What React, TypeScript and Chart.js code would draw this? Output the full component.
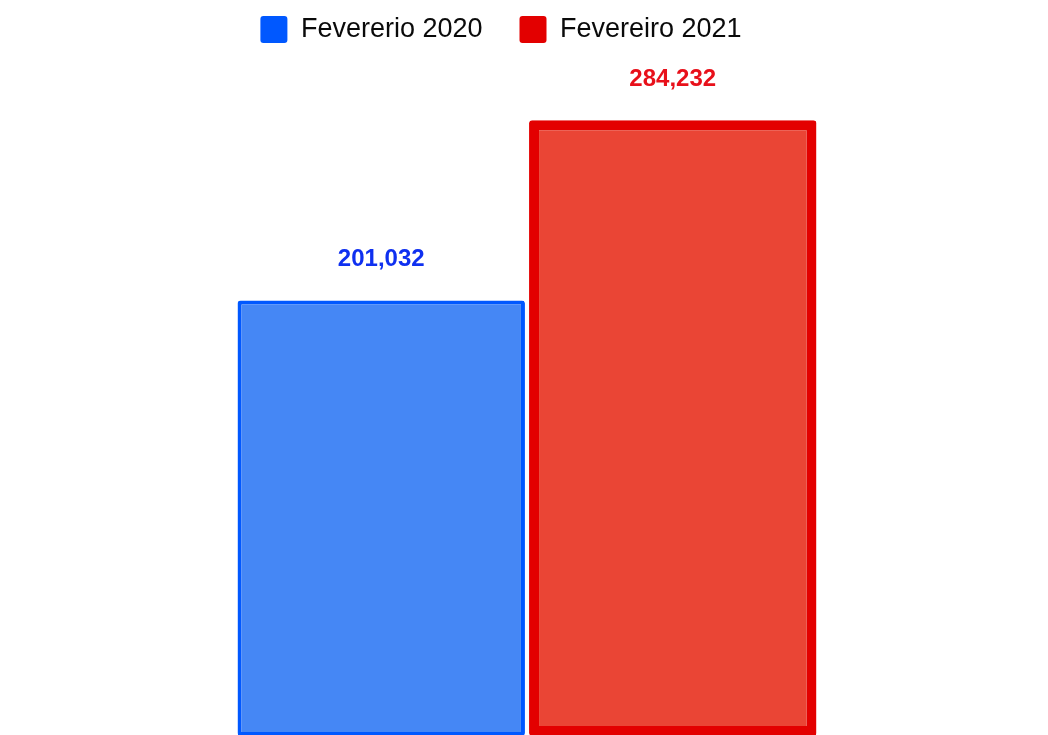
import React, { useEffect, useRef } from "react";
import { Chart, registerables } from "chart.js";

Chart.register(...registerables);

const categories = ["Fevereiro"];
const seriesLabels = ["Fevererio 2020", "Fevereiro 2021"];
const values2020 = [201032];
const values2021 = [284232];
const fillColors = ["#4587F5", "#EA4535"];
const borderColors = ["#0058FF", "#E30000"];
const labelColors = ["#0F30F0", "#E8101A"];
const borderWidths = [4, 10];
const yMax = 300000;

const fmt = (v: number) => v.toLocaleString("en-US");

const valueLabels = {
  id: "valueLabels",
  afterDatasetsDraw(chart: any) {
    const ctx = chart.ctx;
    ctx.save();
    ctx.font = "bold 24px 'Liberation Sans', Arial, sans-serif";
    ctx.textAlign = "center";
    ctx.textBaseline = "middle";
    chart.data.datasets.forEach((ds: any, i: number) => {
      const meta = chart.getDatasetMeta(i);
      meta.data.forEach((el: any, j: number) => {
        ctx.fillStyle = labelColors[i];
        ctx.fillText(fmt(ds.data[j]), el.x, el.y - 41);
      });
    });
    ctx.restore();
  },
};

const legendLayout = {
  id: "legendLayout",
  beforeInit(chart: any) {
    const legend = chart.legend;
    if (!legend) return;
    const orig = legend.fit;
    legend.fit = function () {
      orig.call(this);
      this.height = 86;
    };
  },
  afterLayout(chart: any) {
    const legend = chart.legend;
    if (!legend) return;
    legend.top -= 21;
    legend.bottom -= 21;
    legend.left -= 26;
    legend.right -= 26;
  },
};

export default function App() {
  const ref = useRef<HTMLCanvasElement | null>(null);
  useEffect(() => {
    if (!ref.current) return;
    const chart = new Chart(ref.current, {
      type: "bar",
      data: {
        labels: categories,
        datasets: [
          {
            label: seriesLabels[0],
            data: values2020,
            backgroundColor: fillColors[0],
            borderColor: borderColors[0],
            borderWidth: borderWidths[0],
            borderSkipped: false,
            borderRadius: 3,
          },
          {
            label: seriesLabels[1],
            data: values2021,
            backgroundColor: fillColors[1],
            borderColor: borderColors[1],
            borderWidth: borderWidths[1],
            borderSkipped: false,
            borderRadius: 3,
          },
        ],
      },
      options: {
        animation: false,
        responsive: true,
        maintainAspectRatio: false,
        layout: { padding: { left: 6 } },
        datasets: {
          bar: { categoryPercentage: 0.5595, barPercentage: 0.986 },
        },
        scales: {
          x: { display: false },
          y: { display: false, min: 0, max: yMax },
        },
        plugins: {
          tooltip: { enabled: false },
          legend: {
            display: true,
            position: "top",
            labels: {
              boxWidth: 27,
              boxHeight: 27,
              padding: 37,
              color: "#0A0A0A",
              font: { family: "'Liberation Sans', Arial, sans-serif", size: 27 },
              generateLabels: (c: any) =>
                c.data.datasets.map((ds: any, i: number) => ({
                  text: ds.label,
                  fillStyle: borderColors[i],
                  strokeStyle: borderColors[i],
                  lineWidth: 0,
                  borderRadius: 3,
                  fontColor: "#0A0A0A",
                  hidden: !c.isDatasetVisible(i),
                  datasetIndex: i,
                })),
            },
          },
        },
      },
      plugins: [valueLabels, legendLayout],
    });
    return () => chart.destroy();
  }, []);

  return (
    <div
      style={{
        position: "absolute",
        left: 0,
        top: 0,
        width: "1048px",
        height: "736px",
        background: "#ffffff",
      }}
    >
      <canvas ref={ref} />
    </div>
  );
}
